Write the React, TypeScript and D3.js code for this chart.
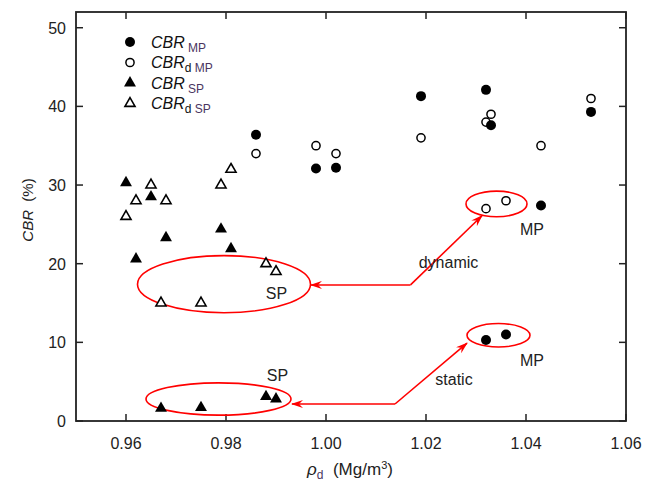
import React from 'react';
import * as d3 from 'd3';

// density (Mg/m3) and CBR (%)
const rhoMP = [0.986, 0.998, 1.002, 1.019, 1.032, 1.033, 1.043, 1.053, 1.032, 1.036];
const cbrMP = [36.4, 32.1, 32.2, 41.3, 42.1, 37.6, 27.4, 39.3, 10.3, 11.0];
const cbrdMP = [34.0, 35.0, 34.0, 36.0, 38.0, 39.0, 35.0, 41.0, 27.0, 28.0];

const rhoSP = [0.96, 0.962, 0.965, 0.968, 0.979, 0.981, 0.967, 0.975, 0.988, 0.99];
const cbrSP = [30.3, 20.6, 28.5, 23.3, 24.4, 21.9, 1.6, 1.7, 3.1, 2.8];
const cbrdSP = [26.0, 28.0, 30.0, 28.0, 30.0, 32.0, 15.0, 15.0, 20.0, 19.0];

const xTicks = [0.96, 0.98, 1.0, 1.02, 1.04, 1.06];
const yTicks = [0, 10, 20, 30, 40, 50];

// annotation ellipses: [cx, cy, rx, ry] in data units
const groupEllipses = [
  [0.9796, 17.4, 0.0173, 3.63],
  [0.9785, 2.8, 0.0145, 2.05],
  [1.0341, 27.6, 0.0061, 1.63],
  [1.0345, 10.9, 0.0063, 1.49],
];
// arrows: tip1 <- corner -> tip2
const arrowPaths = [
  [[0.997, 17.3], [1.0169, 17.3], [1.0312, 26.1]],
  [[0.9932, 2.16], [1.0138, 2.16], [1.0282, 9.9]],
];
const labels = [
  { t: 'SP', x: 0.9901, y: 15.5 },
  { t: 'SP', x: 0.9903, y: 5.1 },
  { t: 'MP', x: 1.0412, y: 23.6 },
  { t: 'MP', x: 1.0412, y: 7.0 },
  { t: 'dynamic', x: 1.0245, y: 19.5 },
  { t: 'static', x: 1.0256, y: 4.6 },
];

const W = 657;
const H = 483;
const font = '"Liberation Sans", Arial, sans-serif';

export default function App() {
  const x = d3.scaleLinear().domain([0.95, 1.06]).range([76, 626]);
  const y = d3.scaleLinear().domain([0, 52]).range([421, 12]);
  const triFill = d3.symbol().type(d3.symbolTriangle).size(62)();
  const triOpen = d3.symbol().type(d3.symbolTriangle).size(44)();
  const line = d3.line<number[]>().x(d => x(d[0])).y(d => y(d[1]));

  const legend = [
    { kind: 'fc', sub: ' MP', d: false },
    { kind: 'oc', sub: ' MP', d: true },
    { kind: 'ft', sub: ' SP', d: false },
    { kind: 'ot', sub: ' SP', d: true },
  ];

  const marker = (kind: string, cx: number, cy: number, key: any) => {
    if (kind === 'fc') return <circle key={key} cx={cx} cy={cy} r={5} fill="#000" />;
    if (kind === 'oc') return <circle key={key} cx={cx} cy={cy} r={4.1} fill="#fff" stroke="#000" strokeWidth={1.5} />;
    if (kind === 'ft') return <path key={key} d={triFill!} transform={`translate(${cx},${cy})`} fill="#000" />;
    return <path key={key} d={triOpen!} transform={`translate(${cx},${cy})`} fill="#fff" stroke="#000" strokeWidth={1.6} />;
  };

  return (
    <svg width={W} height={H} style={{ position: 'absolute', left: 0, top: 0, background: '#fff' }} fontFamily={font}>
      <defs>
        <marker id="ah" viewBox="0 0 12 8" refX="11" refY="4" markerWidth="12" markerHeight="8" markerUnits="userSpaceOnUse" orient="auto">
          <path d="M0,0 L12,4 L0,8 L4,4 z" fill="#f00" />
        </marker>
      </defs>

      {/* ticks inward on all four sides */}
      {xTicks.map(t => (
        <g key={'x' + t}>
          <line x1={x(t)} x2={x(t)} y1={421} y2={414} stroke="#222" strokeWidth={1.5} />
          <line x1={x(t)} x2={x(t)} y1={12} y2={19} stroke="#222" strokeWidth={1.5} />
          <text x={x(t)} y={449} textAnchor="middle" fontSize={16} fill="#222">{d3.format('.2f')(t)}</text>
        </g>
      ))}
      {yTicks.map(t => (
        <g key={'y' + t}>
          <line x1={76} x2={83} y1={y(t)} y2={y(t)} stroke="#222" strokeWidth={1.5} />
          <line x1={626} x2={619} y1={y(t)} y2={y(t)} stroke="#222" strokeWidth={1.5} />
          <text x={66} y={y(t) + 6} textAnchor="end" fontSize={16} fill="#222">{t}</text>
        </g>
      ))}
      <rect x={76} y={12} width={550} height={409} fill="none" stroke="#222" strokeWidth={1.8} />

      {/* axis titles */}
      <text transform="translate(33,210) rotate(-90)" textAnchor="middle" fontSize={15} fill="#222">
        <tspan fontStyle="italic">CBR</tspan>
        <tspan>{'\u00a0\u00a0(%)'}</tspan>
      </text>
      <text x={350} y={475} textAnchor="middle" fontSize={17} fill="#222">
        <tspan fontStyle="italic">ρ</tspan>
        <tspan fontSize={12} dy={4} fill="#4a3560">d</tspan>
        <tspan dy={-4}>{'\u00a0\u00a0(Mg/m'}</tspan>
        <tspan fontSize={11} dy={-6}>3</tspan>
        <tspan dy={6}>)</tspan>
      </text>

      {/* annotations */}
      {groupEllipses.map((e, i) => (
        <ellipse key={'e' + i} cx={x(e[0])} cy={y(e[1])} rx={x(e[0] + e[2]) - x(e[0])} ry={y(0) - y(e[3])}
          fill="none" stroke="#f00" strokeWidth={1.6} />
      ))}
      {arrowPaths.map((p, i) => (
        <g key={'a' + i}>
          <path d={line([p[1], p[0]])!} fill="none" stroke="#f00" strokeWidth={1.6} markerEnd="url(#ah)" />
          <path d={line([p[1], p[2]])!} fill="none" stroke="#f00" strokeWidth={1.6} markerEnd="url(#ah)" />
        </g>
      ))}
      {labels.map((l, i) => (
        <text key={'l' + i} x={x(l.x)} y={y(l.y)} textAnchor="middle" fontSize={16} fill="#222">{l.t}</text>
      ))}

      {/* data */}
      {rhoSP.map((r, i) => marker('ot', x(r), y(cbrdSP[i]), 'ot' + i))}
      {rhoSP.map((r, i) => marker('ft', x(r), y(cbrSP[i]), 'ft' + i))}
      {rhoMP.map((r, i) => marker('oc', x(r), y(cbrdMP[i]), 'oc' + i))}
      {rhoMP.map((r, i) => marker('fc', x(r), y(cbrMP[i]), 'fc' + i))}

      {/* legend */}
      {legend.map((lg, i) => {
        const ly = 42 + i * 20.5;
        return (
          <g key={'lg' + i}>
            {marker(lg.kind, 130, ly, 'lm' + i)}
            <text x={151} y={ly + 5.5} fontSize={16} fill="#111">
              <tspan fontStyle="italic">CBR</tspan>
              {lg.d && <tspan fontSize={12} dy={4}>d</tspan>}
              <tspan fontSize={12} dy={lg.d ? 0 : 4} fill="#4a3560">{lg.sub}</tspan>
            </text>
          </g>
        );
      })}
    </svg>
  );
}
